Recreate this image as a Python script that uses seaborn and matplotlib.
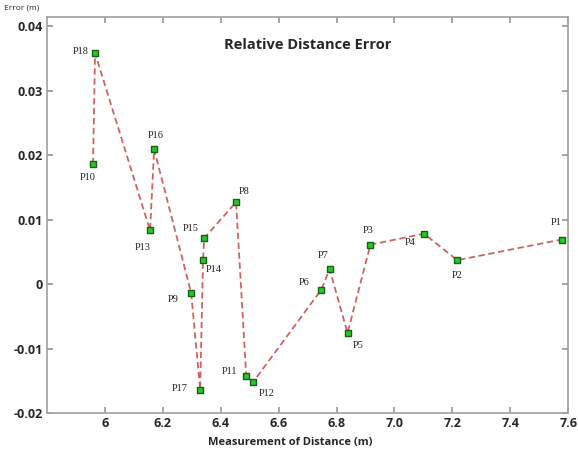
import matplotlib
matplotlib.use("Agg")
import matplotlib.pyplot as plt
import seaborn as sns
import pandas as pd

names = ["P10", "P18", "P13", "P16", "P9", "P17", "P14", "P15", "P8",
         "P11", "P12", "P6", "P7", "P5", "P3", "P4", "P2", "P1"]
dist = [5.959, 5.966, 6.156, 6.170, 6.298, 6.329, 6.339, 6.343, 6.453,
        6.488, 6.512, 6.747, 6.776, 6.838, 6.917, 7.102, 7.217, 7.578]
err = [0.0186, 0.0358, 0.0083, 0.0209, -0.0014, -0.0164, 0.0038, 0.0071, 0.0127,
       -0.0142, -0.0152, -0.0009, 0.0023, -0.0076, 0.0061, 0.0078, 0.0037, 0.0069]
xticks = [6.0, 6.2, 6.4, 6.6, 6.8, 7.0, 7.2, 7.4, 7.6]
xticklabels = ["6", "6.2", "6.4", "6.6", "6.8", "7.0", "7.2", "7.4", "7.6"]
yticks = [-0.02, -0.01, 0.0, 0.01, 0.02, 0.03, 0.04]
yticklabels = ["-0.02", "-0.01", "0", "0.01", "0.02", "0.03", "0.04"]
# label offsets in points (style only)
label_off = {
    "P10": (-4, -10), "P18": (-10, 1), "P13": (-5, -12), "P16": (1, 10),
    "P9": (-13, -5), "P17": (-15, 1), "P14": (8, -7), "P15": (-10, 7),
    "P8": (6, 8), "P11": (-12, 3), "P12": (10, -8), "P6": (-12, 5),
    "P7": (-5, 10), "P5": (8, -9), "P3": (-2, 10), "P4": (-10, -6),
    "P2": (0, -11), "P1": (-4, 12),
}

df = pd.DataFrame({"dist": dist, "err": err, "name": names})

sns.set_theme(style="white")
fig = plt.figure(figsize=(5.78, 4.55), dpi=100)
ax = fig.add_axes([0.0813, 0.0923, 0.9017, 0.8703])

sns.lineplot(data=df, x="dist", y="err", sort=False, ax=ax,
             color="#d06262", linestyle=(0, (3.5, 2)), linewidth=1.3)
sns.scatterplot(data=df, x="dist", y="err", ax=ax, marker="s", s=22,
                color="#22cc22", edgecolor="#1a5e1a", linewidth=1.0, zorder=3)

for n, x, y in zip(names, dist, err):
    dx, dy = label_off[n]
    ax.annotate(n, (x, y), xytext=(dx, dy), textcoords="offset points",
                ha="center", va="center", fontsize=7.5,
                family="Liberation Serif", color="#222222")

ax.set_xlim(5.8, 7.6)
ax.set_ylim(-0.02, 0.0414)
ax.set_xticks(xticks)
ax.set_xticklabels(xticklabels)
ax.set_yticks(yticks)
ax.set_yticklabels(yticklabels)
for lab in ax.get_xticklabels() + ax.get_yticklabels():
    lab.set_fontweight("bold")
    lab.set_fontsize(9)
    lab.set_family("Open Sans")
ax.tick_params(direction="in", length=4, color="#999999", top=True, right=True,
               bottom=True, left=True, pad=3)
for s in ax.spines.values():
    s.set_color("#a0a0a0")
    s.set_linewidth(1.2)

ax.set_xlabel("")
ax.set_ylabel("")
ax.text(0.5, 0.93, "Relative Distance Error", transform=ax.transAxes,
        ha="center", va="center", fontsize=10.5, fontweight="bold",
        family="Open Sans")
fig.text(4 / 578, 1 - 8 / 455, "Error (m)", ha="left", va="center",
         fontsize=6, family="Open Sans")
fig.text(290 / 578, 1 - 442 / 455, "Measurement of Distance (m)", ha="center",
         va="center", fontsize=8, fontweight="bold", family="Open Sans")

fig.savefig("out.png", dpi=100)
